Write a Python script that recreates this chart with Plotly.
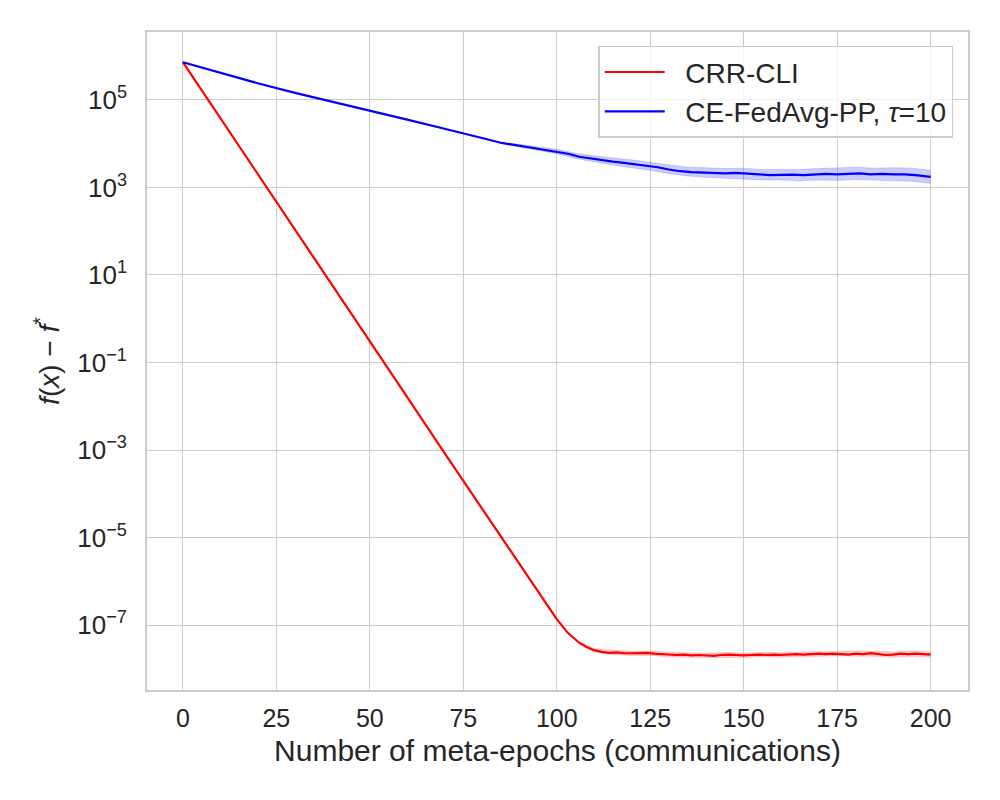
import plotly.graph_objects as go

# values, stored as log10 of f(x) - f*
crr_x = [0, 10, 20, 30, 40, 50, 60, 70, 80, 90, 95, 100, 103, 106, 108, 110,
         112, 114, 116, 118, 120, 122, 124, 126, 128, 130, 132, 134, 136, 138,
         140, 142, 144, 146, 148, 150, 152, 154, 156, 158, 160, 162, 164, 166,
         168, 170, 172, 174, 176, 178, 180, 182, 184, 186, 188, 190, 192, 194,
         196, 198, 200]
crr_log10 = [5.86, 4.59, 3.31, 2.04, 0.76, -0.52, -1.79, -3.07, -4.34, -5.62, -6.25,
             -6.86, -7.18, -7.40, -7.50, -7.57,
             -7.61, -7.63, -7.62, -7.64, -7.64, -7.63, -7.63, -7.65, -7.66, -7.67,
             -7.68, -7.67, -7.69, -7.68, -7.69, -7.70, -7.68, -7.67, -7.68, -7.69,
             -7.68, -7.67, -7.68, -7.67, -7.68, -7.67, -7.66, -7.67, -7.66, -7.65,
             -7.66, -7.65, -7.66, -7.67, -7.65, -7.66, -7.64, -7.66, -7.68, -7.67,
             -7.65, -7.66, -7.65, -7.66, -7.67]

crr_band_x = [106, 110, 115, 120, 125, 130, 135, 140, 145, 150, 155, 160, 165,
              170, 175, 180, 185, 190, 195, 200]
crr_upper_log10 = [-7.37, -7.53, -7.57, -7.59, -7.59, -7.62, -7.63, -7.64, -7.62, -7.64,
                   -7.62, -7.63, -7.62, -7.60, -7.60, -7.59, -7.59, -7.61, -7.59, -7.61]
crr_lower_log10 = [-7.43, -7.61, -7.67, -7.69, -7.69, -7.72, -7.73, -7.74, -7.74, -7.74,
                   -7.72, -7.73, -7.72, -7.70, -7.70, -7.71, -7.71, -7.73, -7.71, -7.73]

fed_x = [0, 10, 20, 30, 40, 50, 60, 70, 75, 80, 85, 88, 90, 95, 98, 100,
         103, 106, 109, 112, 115, 118, 121, 124, 127, 130, 133, 136, 139, 142,
         145, 148, 151, 154, 157, 160, 163, 166, 169, 172, 175, 178, 181, 184,
         187, 190, 193, 196, 198, 200]
fed_log10 = [5.86, 5.62, 5.38, 5.16, 4.96, 4.76, 4.55, 4.34, 4.24, 4.13, 4.02, 3.98,
             3.95, 3.89, 3.85, 3.82,
             3.77, 3.70, 3.66, 3.62, 3.59, 3.56, 3.53, 3.49, 3.46, 3.41, 3.37, 3.35,
             3.34, 3.34, 3.32, 3.33, 3.32, 3.30, 3.28, 3.29, 3.29, 3.28, 3.30, 3.31,
             3.30, 3.31, 3.32, 3.30, 3.31, 3.30, 3.30, 3.28, 3.26, 3.24]

fed_band_x = [85, 90, 95, 100, 105, 110, 115, 120, 125, 130, 135, 140, 145, 150,
              155, 160, 165, 170, 175, 180, 185, 190, 195, 200]
fed_upper_log10 = [4.04, 3.98, 3.93, 3.87, 3.78, 3.72, 3.67, 3.63, 3.57, 3.51, 3.46, 3.45,
                   3.43, 3.44, 3.41, 3.41, 3.41, 3.43, 3.44, 3.46, 3.44, 3.45, 3.44, 3.39]
fed_lower_log10 = [4.00, 3.92, 3.85, 3.77, 3.66, 3.58, 3.51, 3.45, 3.39, 3.31, 3.26, 3.23,
                   3.21, 3.20, 3.17, 3.17, 3.15, 3.17, 3.16, 3.18, 3.16, 3.15, 3.14, 3.09]

x_ticks = [0, 25, 50, 75, 100, 125, 150, 175, 200]
y_tick_exps = [-7, -5, -3, -1, 1, 3, 5]


def unlog(vals):
    return [10 ** v for v in vals]


fig = go.Figure()

# shaded bands (upper then lower filled to it)
fig.add_trace(go.Scatter(x=crr_band_x, y=unlog(crr_upper_log10), mode="lines",
                         line=dict(width=0.6, color="rgba(255,0,0,0.25)"),
                         showlegend=False, hoverinfo="skip"))
fig.add_trace(go.Scatter(x=crr_band_x, y=unlog(crr_lower_log10), mode="lines",
                         line=dict(width=0.6, color="rgba(255,0,0,0.25)"),
                         fill="tonexty", fillcolor="rgba(255,0,0,0.2)",
                         showlegend=False, hoverinfo="skip"))
fig.add_trace(go.Scatter(x=fed_band_x, y=unlog(fed_upper_log10), mode="lines",
                         line=dict(width=0.6, color="rgba(0,0,255,0.25)"),
                         showlegend=False, hoverinfo="skip"))
fig.add_trace(go.Scatter(x=fed_band_x, y=unlog(fed_lower_log10), mode="lines",
                         line=dict(width=0.6, color="rgba(0,0,255,0.25)"),
                         fill="tonexty", fillcolor="rgba(0,0,255,0.2)",
                         showlegend=False, hoverinfo="skip"))

fig.add_trace(go.Scatter(x=crr_x, y=unlog(crr_log10), mode="lines",
                         line=dict(color="red", width=2.2), name="\u00a0\u00a0CRR-CLI"))
fig.add_trace(go.Scatter(x=fed_x, y=unlog(fed_log10), mode="lines",
                         line=dict(color="blue", width=2.2),
                         name="\u00a0\u00a0CE-FedAvg-PP, <i>τ</i>=10"))

axis_font = dict(family="Liberation Sans, Arial, sans-serif", size=25, color="#262626")

# page body adds 8px offset, margins compensate for it
fig.update_layout(
    width=1000, height=800,
    margin=dict(l=139, r=40, t=24, b=118),
    paper_bgcolor="white", plot_bgcolor="white",
    font=axis_font,
    legend=dict(x=0.982, y=0.979, xanchor="right", yanchor="top", traceorder="normal",
                bgcolor="rgba(255,255,255,0.8)", bordercolor="#cccccc", borderwidth=1.5,
                font=dict(size=28), itemwidth=60),
)
fig.update_xaxes(
    range=[-9.6, 210], tickvals=x_ticks, showgrid=True, gridcolor="#cccccc",
    gridwidth=1.3, zeroline=False, showline=True, mirror=True, linecolor="#cccccc",
    linewidth=1.6, ticks="", tickfont=dict(size=25), automargin=False, ticklabelstandoff=5,
    title=dict(text="Number of meta-epochs (communications)", font=dict(size=30), standoff=9),
)
fig.update_yaxes(
    type="log", range=[-8.48, 6.55],
    tickvals=[10.0 ** e for e in y_tick_exps],
    ticktext=["10<sup>%s</sup>" % str(e).replace("-", "−") for e in y_tick_exps],
    showgrid=True, gridcolor="#cccccc", gridwidth=1.3, zeroline=False,
    showline=True, mirror=True, linecolor="#cccccc", linewidth=1.6, ticks="",
    tickfont=dict(size=26), automargin=False, ticklabelstandoff=13,
    title=dict(text="<i>f</i>(<i>x</i>) − <i>f</i><sup>*</sup>", font=dict(size=28), standoff=10),
)

fig.write_html("out.html")
